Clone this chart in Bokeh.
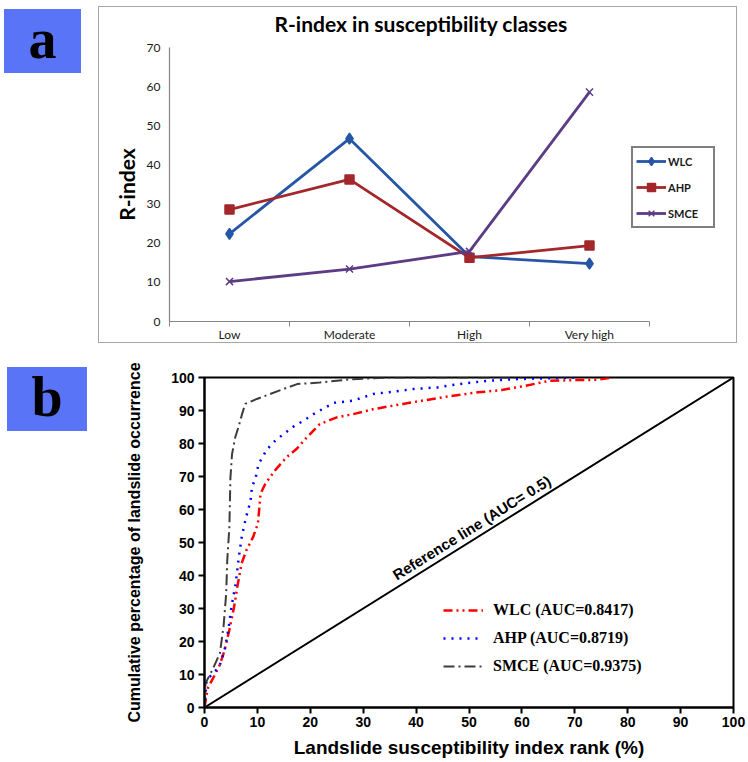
from bokeh.plotting import figure
from bokeh.layouts import column, row
from bokeh.models import Range1d, FixedTicker, Legend, LegendItem, Div, Title
from bokeh.core.properties import value
from bokeh.embed import file_html
from bokeh.resources import INLINE
import numpy as np

# ---------------- data: panel a ----------------
categories = ["Low", "Moderate", "High", "Very high"]
wlc_r = [22.4, 46.7, 16.6, 14.8]
ahp_r = [28.6, 36.3, 16.3, 19.4]
smce_r = [10.2, 13.4, 17.9, 58.6]
r_ticks = [0, 10, 20, 30, 40, 50, 60, 70]

# ---------------- data: panel b ----------------
wlc_x = [0, 0.6, 1.5, 2.9, 3.8, 4.7, 5.6, 6.2, 7.0, 7.9, 9.2, 10.1, 10.6, 11.5, 13.3, 15.5,
         17.5, 19.3, 21.8, 25.0, 28.1, 31.9, 37.5, 42.0, 47.0, 51.7, 56.2, 60.7, 65.2, 69.7, 74.3, 77.0]
wlc_y = [0, 5.8, 8.5, 12.9, 17.4, 23.5, 30.5, 36.5, 43.6, 47.6, 51.7, 55.7, 64.8, 67.8, 71.8, 75.8,
         78.5, 81.8, 85.9, 87.9, 88.9, 90.4, 92.0, 93.2, 94.5, 95.5, 96.2, 97.5, 99.0, 99.2, 99.3, 100]
ahp_x = [0, 0.4, 2.0, 2.9, 3.8, 4.5, 5.1, 5.9, 6.5, 7.1, 7.9, 8.7, 9.0, 9.6, 10.2, 11.8, 13.2,
         14.9, 16.8, 18.7, 20.6, 22.5, 24.4, 28.1, 31.9, 35.6, 39.4, 44.0, 48.1, 53.5, 58.9, 65.2, 70.0]
ahp_y = [0, 8.4, 10.9, 12.9, 17.4, 23.5, 30.5, 37.6, 45.7, 52.3, 57.9, 62.5, 67.1, 69.1, 73.7, 78.2, 80.6,
         82.8, 85.1, 86.9, 88.9, 90.6, 92.3, 93.0, 95.0, 95.7, 96.5, 97.0, 98.0, 99.0, 99.5, 99.8, 100]
smce_x = [0, 0.2, 1.5, 2.9, 3.6, 4.1, 4.3, 4.7, 4.9, 5.2, 5.8, 6.5, 7.1, 7.7, 9.9, 12.4, 14.9,
          17.5, 21.8, 28.0, 35.0, 60.0]
smce_y = [0, 7.4, 11.4, 16.4, 24.5, 34.5, 44.6, 54.7, 69.6, 76.7, 81.8, 85.4, 88.9, 92.0, 93.5, 95.0, 96.5,
          98.0, 98.5, 99.5, 100, 100]
ref_x = [0, 100]
ref_y = [0, 100]
pct_ticks = [0, 10, 20, 30, 40, 50, 60, 70, 80, 90, 100]

BOX_BLUE = "#5a74f7"
SANS = "Liberation Sans"
SERIF = "Liberation Serif"
CAL = "Lato"


def label_div(w, h, pad_top, pad_left, bw, bh, letter):
    html = (
        f'<div style="padding:{pad_top}px 0 0 {pad_left}px;margin:0">'
        f'<div style="width:{bw}px;height:{bh}px;background:{BOX_BLUE};color:#000;'
        f"font-family:'{SERIF}',serif;font-weight:bold;font-size:56px;"
        f'line-height:{bh - 4}px;text-align:center">{letter}</div></div>'
    )
    return Div(text=html, width=w, height=h, margin=0)


# ---------------- panel a ----------------
da = label_div(98, 346, 9, 4, 77, 64, "a")

pt = figure(width=639, height=337, x_range=Range1d(0, 550 / 120), y_range=Range1d(0, 70),
            title=None, output_backend="svg", toolbar_location=None,
            min_border_left=70, min_border_right=19, min_border_top=40, min_border_bottom=22,
            margin=(6, 0, 0, 0),
            styles={"border": "1.5px solid #a6a6a6"})
pt.outline_line_color = None
pt.grid.visible = False

# spacer (nearest the frame) then the real title above it
pt.add_layout(Title(text=" ", text_font_size="1px", standoff=9), "above")
pt.add_layout(Title(text="R-index in susceptibility classes", align="left", offset=105,
                    text_font=CAL, text_font_size="21px", text_font_style="bold",
                    text_color="black", standoff=0), "above")

xpos = np.arange(len(categories)) + 0.5
pt.xaxis.ticker = FixedTicker(ticks=list(xpos), minor_ticks=list(range(len(categories) + 1)))
pt.xaxis.major_label_overrides = {float(x): c for x, c in zip(xpos, categories)}
pt.xaxis.bounds = (0, len(categories))
pt.xaxis.major_tick_out = 0
pt.xaxis.major_tick_in = 0
pt.xaxis.minor_tick_out = 5
pt.xaxis.minor_tick_in = 0
pt.xaxis.minor_tick_line_color = "#868686"
pt.yaxis.ticker = FixedTicker(ticks=r_ticks)
pt.yaxis.major_tick_out = 0
pt.yaxis.major_tick_in = 0
pt.yaxis.minor_tick_line_color = None
for ax in (pt.xaxis, pt.yaxis):
    ax.axis_line_color = "#868686"
    ax.axis_line_width = 1.2
    ax.major_label_text_font = CAL
    ax.major_label_text_font_size = "12px"
    ax.major_label_text_color = "#1a1a1a"
pt.xaxis.major_label_standoff = 0
pt.yaxis.major_label_standoff = 9
pt.yaxis.axis_label = "R-index"
pt.yaxis.axis_label_text_font = CAL
pt.yaxis.axis_label_text_font_size = "21px"
pt.yaxis.axis_label_text_font_style = "bold"
pt.yaxis.axis_label_text_color = "black"
pt.yaxis.axis_label_standoff = 5

series_a = [
    ("WLC", wlc_r, "#2656a6", "diamond", 11),
    ("AHP", ahp_r, "#a3272b", "square", 9),
    ("SMCE", smce_r, "#5b3c85", "x", 10),
]
items_a = []
for name, vals, col, mk, sz in series_a:
    ln = pt.line(xpos, vals, line_color=col, line_width=2.8)
    sc = pt.scatter(xpos, vals, marker=mk, size=sz, fill_color=col, line_color=col, line_width=1.5)
    items_a.append(LegendItem(label=name, renderers=[ln, sc]))

leg_a = Legend(items=items_a, location=(462, 93))
leg_a.border_line_color = "black"
leg_a.border_line_width = 2
leg_a.background_fill_color = "white"
leg_a.background_fill_alpha = 1
leg_a.padding = 3
leg_a.margin = 0
leg_a.spacing = 6
leg_a.glyph_width = 30
leg_a.glyph_height = 20
leg_a.label_height = 20
leg_a.label_width = 42
leg_a.label_standoff = 2
leg_a.label_text_font = CAL
leg_a.label_text_font_size = "11px"
leg_a.label_text_font_style = "bold"
leg_a.label_text_color = "#1a1a1a"
pt.add_layout(leg_a)

# ---------------- panel b ----------------
db = label_div(98, 414, 21, 7, 80, 64, "b")

pb = figure(width=650, height=414, x_range=Range1d(0, 100), y_range=Range1d(0, 100),
            output_backend="svg", toolbar_location=None,
            min_border_left=106, min_border_right=15, min_border_top=31, min_border_bottom=53)
pb.grid.visible = False
pb.outline_line_color = "black"
pb.outline_line_width = 2
pb.outline_line_alpha = 1
pb.xaxis.ticker = FixedTicker(ticks=pct_ticks)
pb.yaxis.ticker = FixedTicker(ticks=pct_ticks)
for ax in (pb.xaxis, pb.yaxis):
    ax.axis_line_color = "black"
    ax.axis_line_width = 2
    ax.major_tick_line_color = "black"
    ax.major_tick_line_width = 2
    ax.major_tick_out = 6
    ax.major_tick_in = 0
    ax.minor_tick_line_color = None
    ax.major_label_text_font = SANS
    ax.major_label_text_font_style = "bold"
    ax.major_label_text_font_size = "14px"
    ax.major_label_text_color = "black"
    ax.axis_label_text_font = SANS
    ax.axis_label_text_font_style = "bold"
    ax.axis_label_text_color = "black"
pb.xaxis.major_label_standoff = 3
pb.yaxis.major_label_standoff = 4
pb.xaxis.axis_label = "Landslide susceptibility index rank (%)"
pb.xaxis.axis_label_text_font_size = "19px"
pb.xaxis.axis_label_standoff = 7
pb.yaxis.axis_label = "Cumulative percentage of landslide occurrence"
pb.yaxis.axis_label_text_font_size = "16px"
pb.yaxis.axis_label_standoff = 25

pb.line(ref_x, ref_y, line_color="black", line_width=2)
pb.text(x=[50.5], y=[54.5], text=["Reference line (AUC= 0.5)"], angle=32, angle_units="deg",
        text_align="center", text_baseline="middle", text_font=value(SANS),
        text_font_style="bold", text_font_size="15px", text_color="black")

l1 = pb.line(wlc_x, wlc_y, line_color="#ff0000", line_width=2.5, line_dash="9 4 2 4 2 4")
l2 = pb.line(ahp_x, ahp_y, line_color="#0000ff", line_width=2.5, line_dash="2 6")
l3 = pb.line(smce_x, smce_y, line_color="#3c3c3c", line_width=2, line_dash="11 4 2 4")

leg_b = Legend(items=[LegendItem(label="WLC (AUC=0.8417)", renderers=[l1]),
                      LegendItem(label="AHP (AUC=0.8719)", renderers=[l2]),
                      LegendItem(label="SMCE (AUC=0.9375)", renderers=[l3])],
               location=(239, 31))
leg_b.border_line_color = None
leg_b.background_fill_alpha = 0
leg_b.padding = 0
leg_b.margin = 0
leg_b.spacing = 8
leg_b.glyph_width = 40
leg_b.glyph_height = 20
leg_b.label_height = 20
leg_b.label_standoff = 10
leg_b.label_text_font = SERIF
leg_b.label_text_font_style = "bold"
leg_b.label_text_font_size = "16px"
leg_b.label_text_color = "black"
pb.add_layout(leg_b)

layout = column(row(da, pt), row(db, pb))

open("out.html", "w").write(file_html(layout, INLINE))
